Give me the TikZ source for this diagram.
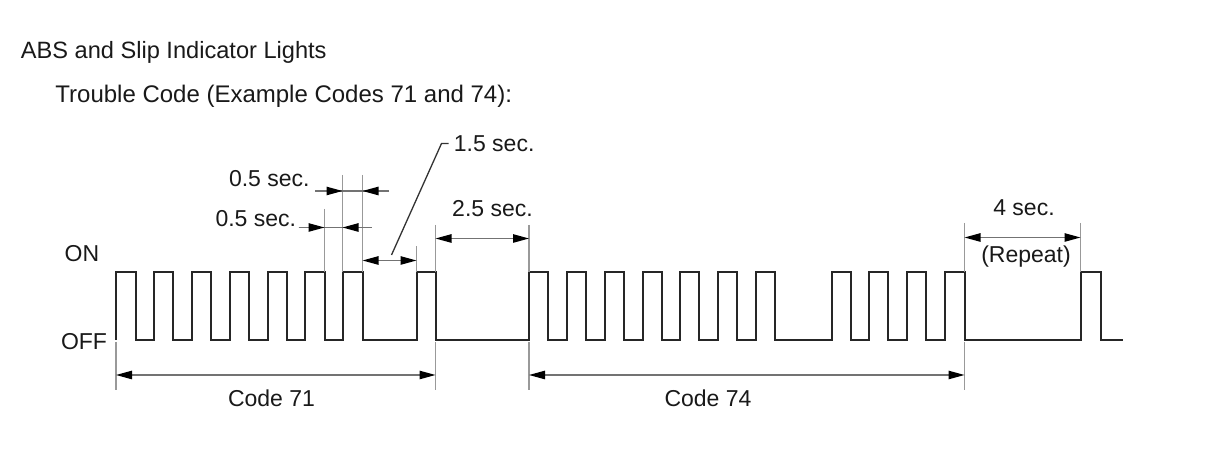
\documentclass[tikz,border=0pt]{standalone}
\usepackage{fontspec}
\setmainfont{Liberation Sans}
\usepackage{tikz}
\usetikzlibrary{arrows.meta}
\usetikzlibrary{calc}

\tikzset{
  wave/.style={line width=1pt, black!85, line join=miter},
  dimline/.style={line width=0.65pt, black!55},
  extline/.style={line width=0.6pt, black!40},
  leader/.style={line width=0.65pt, black!80},
  dimtip/.style={dimline, -{Triangle[length=8pt,width=4.2pt,color=black]}},
  dimboth/.style={dimline, {Triangle[length=8pt,width=4.2pt,color=black]}-{Triangle[length=8pt,width=4.2pt,color=black]}},
  lbl/.style={inner sep=0pt, text=black!90, font=\fontsize{11.5}{13}\selectfont},
  head/.style={lbl, anchor=base west},
}

\begin{document}
\begin{tikzpicture}[x=0.5pt,y=-0.5pt]
\fill[white] (0,0) rectangle (1210,474);
\useasboundingbox (0,0) rectangle (1210,474);

% headings
\node[head, font=\fontsize{11.8}{14}\selectfont] (title) at (20.5,59) {ABS and Slip Indicator Lights};
\node[head, font=\fontsize{12}{14}\selectfont] (subtitle) at (55,103) {Trouble Code (Example Codes 71 and 74):};
\node[lbl, anchor=base] (on) at (82,261.5) {ON};
\node[lbl, anchor=base] (off) at (84,350) {OFF};

% edges of the signal
\coordinate (start71) at (116,340);
\coordinate (fall6) at (324.5,272);
\coordinate (rise7) at (342.5,272);
\coordinate (fall7) at (362.5,272);
\coordinate (rise8) at (416.5,272);
\coordinate (fall8) at (435.5,272);
\coordinate (start74) at (529,272);
\coordinate (end74) at (964.5,272);
\coordinate (repeat) at (1080.5,272);

% signal
\draw[wave] (start71) |- (135.5,272) |- (153.5,340) |- (173,272) |- (191.5,340)
  |- (211,272) |- (229.5,340) |- (249,272) |- (267.5,340) |- (287,272)
  |- (304.5,340) |- (fall6) |- (rise7 |- start71) |- (fall7) |- (rise8 |- start71)
  |- (fall8) |- (start74 |- start71)
  |- (548,272) |- (567,340) |- (586,272) |- (605,340) |- (624,272)
  |- (642.5,340) |- (661.5,272) |- (680,340) |- (699,272) |- (718,340)
  |- (737,272) |- (756,340) |- (775,272) |- (831.5,340) |- (850.5,272)
  |- (869,340) |- (888,272) |- (907,340) |- (926,272) |- (945,340)
  |- (end74) |- (repeat |- start71) |- (1100.5,272) |- (1123,340);

% 0.5 sec. (upper)
\node[lbl, anchor=base east] (halfon) at (310,187) {0.5 sec.};
\coordinate (ua) at (315,191);
\coordinate (ub) at (342.5,191);
\coordinate (uc) at (362.5,191);
\coordinate (ud) at (389,191);
\draw[extline] (342.5,175) -- (rise7);
\draw[extline] (362.5,175) -- (fall7);
\draw[dimline] (ua) -- (ud);
\draw[dimtip] (ua) -- (ub);
\draw[dimtip] (ud) -- (uc);

% 0.5 sec. (lower)
\node[lbl, anchor=base east] (halfoff) at (296.5,226.5) {0.5 sec.};
\coordinate (la) at (298.5,227.5);
\coordinate (lb) at (324.5,227.5);
\coordinate (lc) at (342.5,227.5);
\coordinate (ld) at (371.5,227.5);
\draw[extline] (324.5,209) -- (fall6);
\draw[dimline] (la) -- (ld);
\draw[dimtip] (la) -- (lb);
\draw[dimtip] (ld) -- (lc);

% 1.5 sec.
\node[lbl, anchor=base west] (gapdigit) at (453.5,152) {1.5 sec.};
\coordinate (sa) at (362.5,260.5);
\coordinate (sb) at (416.5,260.5);
\coordinate (lead) at (391.5,255);
\coordinate (knee) at (441.5,143.5);
\coordinate (tail) at (448.5,143.5);
\draw[extline] (416.5,246.5) -- (rise8);
\draw[dimboth] (sa) -- (sb);
\draw[leader] (lead) -- (knee) -- (tail);

% 2.5 sec.
\node[lbl, anchor=base] (gapcode) at (492.5,216.5) {2.5 sec.};
\coordinate (ta) at (435.5,238.5);
\coordinate (tb) at (529,238.5);
\draw[extline] (435.5,225) -- (fall8);
\draw[extline] (529,225) -- (start74);
\draw[dimboth] (ta) -- (tb);

% 4 sec. (Repeat)
\node[lbl, anchor=base] (gaprep) at (1024,216) {4 sec.};
\node[lbl, anchor=base] (rep) at (1026,263) {(Repeat)};
\coordinate (ra) at (964.5,237.5);
\coordinate (rb) at (1080.5,237.5);
\draw[extline] (964.5,223) -- (end74);
\draw[extline] (1080.5,223) -- (repeat);
\draw[dimboth] (ra) -- (rb);

% code lengths
\draw[extline] (116,342) -- (116,390);
\draw[extline] (435.5,342) -- (435.5,390);
\draw[extline] (529,342) -- (529,390);
\draw[extline] (964.5,342) -- (964.5,390);
\coordinate (ca) at (116,375);
\coordinate (cb) at (435.5,375);
\coordinate (cc) at (529,375);
\coordinate (cd) at (964.5,375);
\draw[dimboth] (ca) -- (cb);
\draw[dimboth] (cc) -- (cd);
\node[lbl, anchor=base] (code71) at (271.5,406.5) {Code 71};
\node[lbl, anchor=base] (code74) at (708,406.5) {Code 74};
\end{tikzpicture}
\end{document}
